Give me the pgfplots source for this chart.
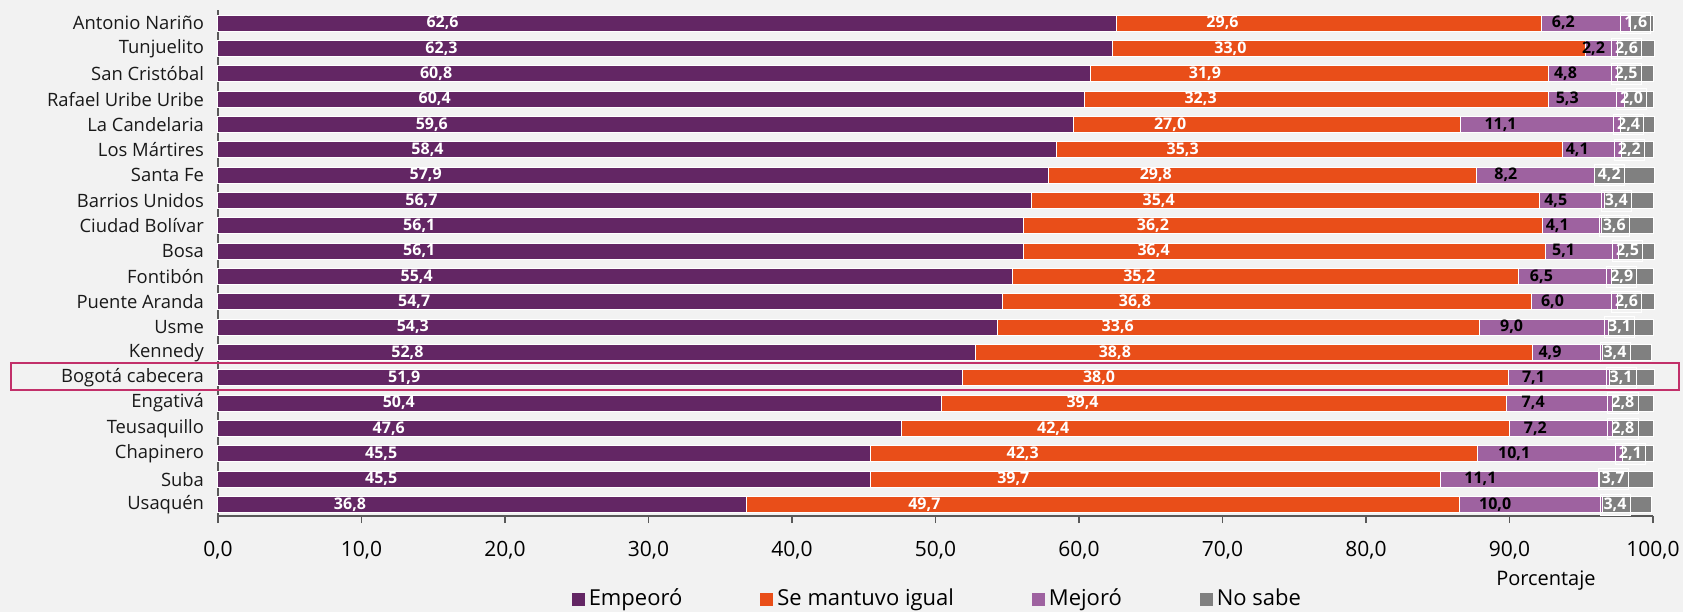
\documentclass[border=0pt]{standalone}
\usepackage{pgfplots}
\pgfplotsset{compat=1.18}
\usepackage{pgfplotstable}
\usepackage{fontspec}
\setmainfont{Open Sans}
\definecolor{bgc}{HTML}{F2F2F2}
\definecolor{cA}{HTML}{632664}
\definecolor{cB}{HTML}{E94E19}
\definecolor{cC}{HTML}{9E62A0}
\definecolor{cD}{HTML}{808080}
\definecolor{hl}{HTML}{C2306A}
\definecolor{axc}{HTML}{595959}

\pgfplotstableread{
idx a b c d
19 62.6 29.6 6.2 1.6
18 62.3 33.0 2.2 2.6
17 60.8 31.9 4.8 2.5
16 60.4 32.3 5.3 2.0
15 59.6 27.0 11.1 2.4
14 58.4 35.3 4.1 2.2
13 57.9 29.8 8.2 4.2
12 56.7 35.4 4.5 3.4
11 56.1 36.2 4.1 3.6
10 56.1 36.4 5.1 2.5
9 55.4 35.2 6.5 2.9
8 54.7 36.8 6.0 2.6
7 54.3 33.6 9.0 3.1
6 52.8 38.8 4.9 3.4
5 51.9 38.0 7.1 3.1
4 50.4 39.4 7.4 2.8
3 47.6 42.4 7.2 2.8
2 45.5 42.3 10.1 2.1
1 45.5 39.7 11.1 3.7
0 36.8 49.7 10.0 3.4
}\datatable

\begin{document}
\begin{tikzpicture}
\fill[bgc] (-109pt,-48pt) rectangle (732.5pt,258pt);
\begin{axis}[
  at={(0pt,0pt)}, anchor=south west,
  scale only axis, width=717.5pt, height=252.9pt,
  clip=false,
  xbar stacked, bar width=8pt,
  xmin=0, xmax=100, ymin=-0.454, ymax=19.51,
  axis x line*=bottom, axis y line*=left,
  axis line style={axc, line width=0.6pt},
  xtick={0,10,...,100},
  tick align=outside,
  major tick length=3.5pt,
  x tick style={axc, line width=0.6pt},
  y tick style={draw=none},
  xticklabel style={font=\fontsize{10.5}{12}\selectfont, text=black, yshift=-5.5pt,
    /pgf/number format/.cd, fixed, fixed zerofill, precision=1, use comma, assume math mode=true},
  ytick={0,...,19},
  yticklabels={Usaquén, Suba, Chapinero, Teusaquillo, Engativá, Bogotá cabecera, Kennedy, Usme, Puente Aranda, Fontibón, Bosa, Ciudad Bolívar, Barrios Unidos, Santa Fe, Los Mártires, La Candelaria, Rafael Uribe Uribe, San Cristóbal, Tunjuelito, Antonio Nariño},
  yticklabel style={font=\fontsize{9.2}{11}\selectfont, text=black!90},
  xlabel={Porcentaje},
  xlabel style={at={(axis description cs:0.9254,0)}, anchor=center, yshift=-32.5pt, font=\fontsize{10}{12}\selectfont},
  point meta=explicit,
  visualization depends on={rawx \as \rawxv},
  nodes near coords={\pgfmathprintnumber[fixed,fixed zerofill,precision=1,use comma,assume math mode=true]{\pgfplotspointmeta}},
  nodes near coords style={font=\bfseries\fontsize{8}{9}\selectfont, anchor=center, xshift={-1.79375pt*\rawxv}},
  legend style={at={(axis description cs:0.502,0)}, anchor=center, yshift=-41.5pt, draw=none, fill=none,
    legend columns=4, font=\fontsize{11}{13}\selectfont,
    /tikz/every even column/.append style={column sep=37pt}},
  legend image code/.code={\fill[#1,draw=none] (0pt,-3.25pt) rectangle (6.5pt,3.25pt);},
]
\addplot[fill=cA, draw=white, line width=0.5pt,
  every node near coord/.append style={text=white}]
  table[x=a, y=idx, meta=a] {\datatable};
\addplot[fill=cB, draw=white, line width=0.5pt,
  every node near coord/.append style={text=white}]
  table[x=b, y=idx, meta=b] {\datatable};
\addplot[fill=cC, draw=white, line width=0.5pt,
  every node near coord/.append style={text=black}]
  table[x=c, y=idx, meta=c] {\datatable};
\addplot[fill=cD, draw=white, line width=0.5pt,
  every node near coord/.append style={text=white, draw=white, line width=0.4pt, inner sep=1.8pt}]
  table[x=d, y=idx, meta=d] {\datatable};
\legend{Empeoró, Se mantuvo igual, Mejoró, No sabe}
\end{axis}
\draw[hl, line width=0.7pt] (-103.5pt,63pt) rectangle (730.5pt,76.5pt);
\pgfresetboundingbox
\useasboundingbox (-109pt,-48pt) rectangle (732.5pt,258pt);
\end{tikzpicture}
\end{document}
